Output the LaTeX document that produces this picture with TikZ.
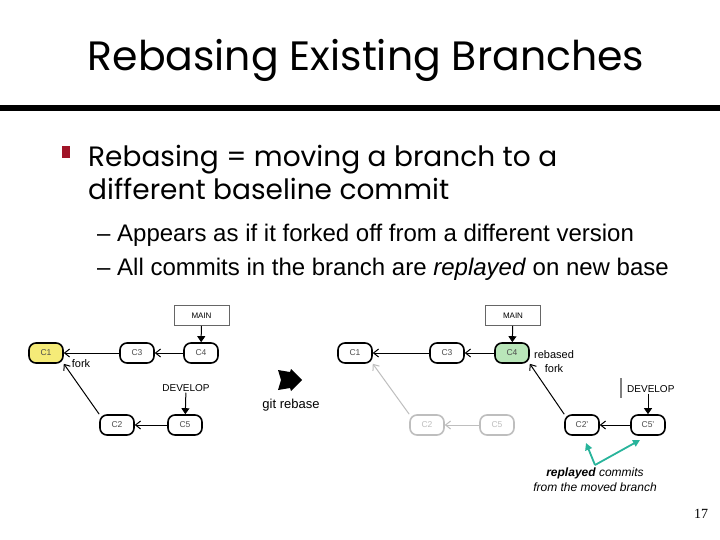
\documentclass[tikz,border=0pt]{standalone}
\usepackage{fontspec}
\setmainfont{Liberation Sans}
\newfontfamily\slidefont{Poppins}
\newfontfamily\pagefont{Liberation Serif}
\usetikzlibrary{arrows.meta,positioning}
\definecolor{bulletred}{RGB}{160,20,40}
\definecolor{forkyellow}{RGB}{245,235,120}
\definecolor{rebasegreen}{RGB}{185,230,185}
\definecolor{oldgrey}{RGB}{190,190,190}
\definecolor{noteteal}{RGB}{40,180,155}
\tikzset{
  commit/.style={draw,rounded corners=7pt,line width=1.6pt,fill=white,
    minimum width=34pt,minimum height=20pt,inner sep=1pt,
    font=\fontsize{8.5}{9}\selectfont,text=black!70},
  oldcommit/.style={commit,draw=oldgrey,text=oldgrey},
  refbox/.style={draw=black!60,line width=0.6pt,minimum width=55pt,
    minimum height=20pt,font=\fontsize{8}{9}\selectfont},
  parent/.style={-{Straight Barb[length=5pt,width=8pt]},line width=1pt},
  oldparent/.style={parent,draw=oldgrey},
  pointer/.style={-{Triangle[length=6pt,width=8pt]},line width=1pt},
  smalllabel/.style={font=\fontsize{11}{14}\selectfont,align=left,inner sep=1pt},
  notearrow/.style={-{Triangle[length=7pt,width=7pt]},line width=1.8pt,draw=noteteal},
  headline/.style={font=\slidefont\fontsize{41}{46}\selectfont},
  mainpoint/.style={font=\slidefont\fontsize{28}{33}\selectfont,align=left,anchor=north west,inner sep=0pt},
  subpoint/.style={font=\fontsize{24}{34}\selectfont,align=left,anchor=north west,inner sep=0pt}
}

\begin{document}
\begin{tikzpicture}[x=1pt,y=-1pt]
  \useasboundingbox[fill=white] (0,0) rectangle (720,540);
  \node[headline] (title) at (366,60) {Rebasing Existing Branches};
  \draw[line width=6pt] (0,108) -- (720,108);
  \fill[bulletred] (62,146) rectangle (70,158);
  \node[mainpoint] (point) at (88,145) {Rebasing = moving a branch to a\\different baseline commit};
  \node[subpoint] (sub) at (97,224)
    {-- Appears as if it forked off from a different version\\
     -- All commits in the branch are \textit{replayed} on new base};

  \node[refbox] (mainA) at (201.5,315.5) {MAIN};
  \node[commit,fill=forkyellow] (c1A) at (46,353) {C1};
  \node[commit] (c3A) at (137,353) {C3};
  \node[commit] (c4A) at (201,353) {C4};
  \node[commit] (c2A) at (117,425) {C2};
  \node[commit] (c5A) at (185,425) {C5};
  \node[smalllabel] (forkA) at (81,364) {fork};
  \node[smalllabel,font=\fontsize{10}{11}\selectfont] (devA) at (186,388) {DEVELOP};
  \draw[pointer] (mainA) -- (c4A);
  \draw[parent] (c4A) -- (c3A);
  \draw[parent] (c3A) -- (c1A);
  \draw[parent] (c5A) -- (c2A);
  \draw[parent] (c2A.north west) -- (c1A.south east);
  \draw[pointer] (devA) -- (c5A);

  \fill (278,370) -- (290,372) -- (291,369) -- (302,380) -- (291,391) -- (290,388) -- (278,390) -- (281,380) -- cycle;
  \node[smalllabel,font=\fontsize{13}{14}\selectfont] (rebase) at (291,405) {git rebase};

  \node[refbox] (mainB) at (513,315.5) {MAIN};
  \node[commit] (c1B) at (355,353) {C1};
  \node[commit] (c3B) at (447,353) {C3};
  \node[commit,fill=rebasegreen] (c4B) at (512,353) {C4};
  \node[oldcommit] (c2B) at (427,425) {C2};
  \node[oldcommit] (c5B) at (497,425) {C5};
  \node[commit] (c2pB) at (582,425) {C2'};
  \node[commit] (c5pB) at (648,425) {C5'};
  \node[smalllabel,align=center] (forkB) at (554,362) {rebased\\fork};
  \node[smalllabel,anchor=west,font=\fontsize{10}{11}\selectfont] (devB) at (626,389) {DEVELOP};
  \draw[line width=1.5pt,draw=black!50] (621,378) -- (621,398);
  \draw[pointer] (mainB) -- (c4B);
  \draw[parent] (c4B) -- (c3B);
  \draw[parent] (c3B) -- (c1B);
  \draw[oldparent] (c5B) -- (c2B);
  \draw[oldparent] (c2B.north west) -- (c1B.south east);
  \draw[parent] (c5pB) -- (c2pB);
  \draw[parent] (c2pB.north west) -- (c4B.south east);
  \draw[pointer] (devB.south -| c5pB) -- (c5pB);

  \coordinate (noteTip) at (595,465);
  \coordinate (noteA) at (586,443);
  \coordinate (noteB) at (640,440);
  \draw[notearrow] (noteTip) -- (noteA);
  \draw[notearrow] (noteTip) -- (noteB);
  \node[font=\fontsize{12}{15}\selectfont\itshape,align=center] (note) at (595,480)
    {\textbf{replayed} commits\\from the moved branch};
  \node[font=\pagefont\fontsize{14}{16}\selectfont] (page) at (701,514) {17};
\end{tikzpicture}
\end{document}
